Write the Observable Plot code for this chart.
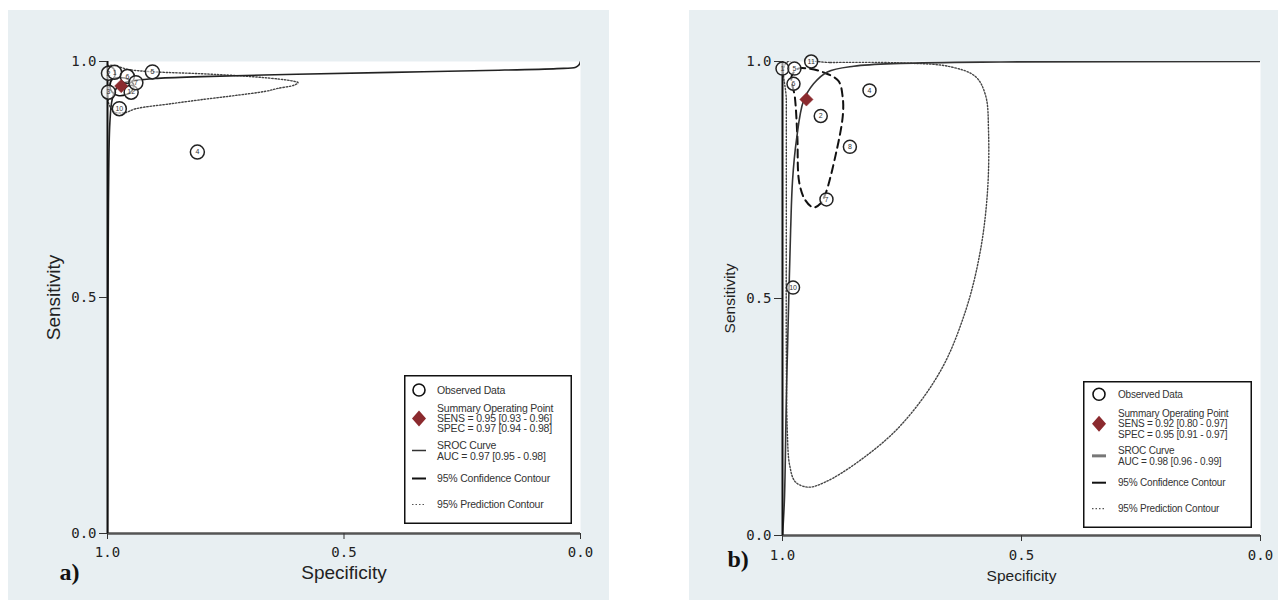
<!DOCTYPE html>
<html><head><meta charset="utf-8">
<script src="https://cdn.jsdelivr.net/npm/d3@7"></script>
<script src="https://cdn.jsdelivr.net/npm/@observablehq/plot@0.6"></script>
<style>
body{margin:0;background:#fff;width:1278px;height:608px;overflow:hidden;position:relative;font-family:"Liberation Sans",Arial,sans-serif}
.panel{position:absolute;background:#e8eff2}
.panel svg{position:absolute;left:0;top:0}
.leg{position:absolute}
</style></head><body>
<div id="pa" class="panel" style="left:8px;top:10px;width:601px;height:590px"></div>
<div id="pb" class="panel" style="left:689px;top:10px;width:589px;height:590px"></div>
<script>
// ---------- data ----------
const axisTicks = [0, 0.5, 1];
const xTitle = "Specificity";
const yTitle = "Sensitivity";

// Panel a: observed studies
const obsSpecA = [0.998, 0.985, 0.958, 0.905, 0.81, 0.998, 0.95, 0.94, 0.975];
const obsSensA = [0.975, 0.977, 0.968, 0.978, 0.808, 0.935, 0.935, 0.955, 0.9];
const obsLabA  = ["2", "1", "6", "5", "4", "3", "12", "7", "10"];
const sumSpecA = [0.971];
const sumSensA = [0.948];
const srocSpecA = [1.0, 0.9995, 0.998, 0.995, 0.99, 0.98, 0.965, 0.94, 0.9, 0.8, 0.6, 0.4, 0.2, 0.05, 0.01, 0.003, 0.0];
const srocSensA = [0.0, 0.3, 0.7, 0.87, 0.92, 0.945, 0.955, 0.96, 0.964, 0.968, 0.973, 0.977, 0.981, 0.985, 0.988, 0.993, 1.0];
const confSpecA = [0.99, 0.975, 0.955, 0.945, 0.948, 0.96, 0.978, 0.99, 0.995];
const confSensA = [0.962, 0.966, 0.962, 0.952, 0.938, 0.93, 0.928, 0.935, 0.948];
const predSpecA = [1.0, 0.95, 0.9, 0.8, 0.71, 0.64, 0.605, 0.597, 0.605, 0.64, 0.665, 0.73, 0.795, 0.87, 0.94, 0.962, 0.985, 0.997, 1.0];
const predSensA = [0.99, 0.982, 0.978, 0.974, 0.969, 0.963, 0.958, 0.955, 0.95, 0.943, 0.937, 0.928, 0.92, 0.91, 0.9, 0.892, 0.893, 0.91, 0.95];
const legendA = ["Observed Data", "Summary Operating Point", "SENS = 0.95 [0.93 - 0.96]", "SPEC = 0.97 [0.94 - 0.98]",
                 "SROC Curve", "AUC = 0.97 [0.95 - 0.98]", "95% Confidence Contour", "95% Prediction Contour"];

// Panel b: observed studies
const obsSpecB = [1.0, 0.975, 0.94, 0.977, 0.818, 0.92, 0.859, 0.908, 0.978];
const obsSensB = [0.985, 0.985, 1.0, 0.953, 0.939, 0.885, 0.82, 0.709, 0.523];
const obsLabB  = ["1", "5", "11", "6", "4", "2", "8", "7", "10"];
const sumSpecB = [0.95];
const sumSensB = [0.92];
const srocSpecB = [1.0, 0.996, 0.992, 0.987, 0.983, 0.979, 0.971, 0.956, 0.935, 0.906, 0.851, 0.753, 0.544, 0.0];
const srocSensB = [0.0, 0.075, 0.286, 0.497, 0.644, 0.749, 0.833, 0.917, 0.953, 0.978, 0.99, 0.996, 0.999, 1.0];
const confSpecB = [0.981, 0.974, 0.969, 0.965, 0.952, 0.935, 0.921, 0.91, 0.889, 0.874, 0.874, 0.883, 0.914, 0.946, 0.967];
const confSensB = [0.969, 0.924, 0.843, 0.745, 0.707, 0.692, 0.7, 0.721, 0.802, 0.884, 0.924, 0.959, 0.977, 0.985, 0.985];
const predSpecB = [0.992, 0.9, 0.753, 0.649, 0.596, 0.575, 0.569, 0.571, 0.586, 0.617, 0.669, 0.753, 0.837, 0.91, 0.946, 0.973, 0.985, 0.99, 0.992, 0.992, 0.992];
const predSensB = [0.997, 0.998, 0.997, 0.989, 0.968, 0.928, 0.854, 0.728, 0.601, 0.474, 0.348, 0.232, 0.159, 0.113, 0.102, 0.113, 0.148, 0.222, 0.391, 0.707, 0.917];
const legendB = ["Observed Data", "Summary Operating Point", "SENS = 0.92 [0.80 - 0.97]", "SPEC = 0.95 [0.91 - 0.97]",
                 "SROC Curve", "AUC = 0.98 [0.96 - 0.99]", "95% Confidence Contour", "95% Prediction Contour"];

// ---------- helpers ----------
const zip = (xs, ys, ls) => xs.map((x, i) => ({spec: x, sens: ys[i], label: ls ? ls[i] : null}));
const fmt = d3.format(".1f");

function panel(c) {
  const obs = zip(c.obsSpec, c.obsSens, c.obsLab);
  return Plot.plot({
    width: c.width, height: 590,
    marginLeft: c.ml, marginRight: c.mr, marginTop: c.mt, marginBottom: c.mb,
    style: {background: "transparent", fontFamily: "DejaVu Sans Mono", fontSize: "14px", color: "#222"},
    x: {domain: [1, 0], label: null},
    y: {domain: [0, 1], label: null},
    marks: [
      Plot.frame({fill: "white", stroke: null}),
      Plot.line(zip(c.predSpec, c.predSens), {x: "spec", y: "sens", curve: "catmull-rom-closed", stroke: "#444", strokeWidth: 1.4, strokeDasharray: "1.4,1.8", clip: true}),
      Plot.line(zip(c.confSpec, c.confSens), {x: "spec", y: "sens", curve: "catmull-rom-closed", stroke: "#111", strokeWidth: c.confW, strokeDasharray: c.confDash, clip: true}),
      Plot.line(zip(c.srocSpec, c.srocSens), {x: "spec", y: "sens", curve: "catmull-rom", stroke: c.srocColor, strokeWidth: 1.6, clip: true}),
      Plot.ruleY([0], {stroke: "#555", strokeWidth: 2.5}),
      Plot.ruleX([1], {stroke: "#111", strokeWidth: 2}),
      Plot.dot(obs, {x: "spec", y: "sens", r: c.r, stroke: "#222", strokeWidth: 1.5, fill: "white", fillOpacity: 0.55}),
      Plot.text(obs, {x: "spec", y: "sens", text: "label", fontSize: 7, fontFamily: "Liberation Sans", fill: "#333"}),
      Plot.dot(zip(c.sumSpec, c.sumSens), {x: "spec", y: "sens", symbol: "diamond2", r: 6, fill: "#8b2a2e", stroke: "#8b2a2e", strokeWidth: 0.5}),
      Plot.axisY(axisTicks, {tickSize: 8, tickPadding: 3, tickFormat: fmt, fontSize: 14, label: null, stroke: "#333"}),
      Plot.axisX(axisTicks, {tickSize: 6, tickPadding: c.xPad, tickFormat: fmt, fontSize: 14, label: null, stroke: "#333"}),
      Plot.text([c.xTitle], {frameAnchor: "bottom", dy: c.xdy, textAnchor: "middle", lineAnchor: "middle", fontSize: c.tf, fontFamily: "Liberation Sans", fill: "#222"}),
      Plot.text([c.yTitle], {frameAnchor: "left", dx: c.ydx, rotate: -90, textAnchor: "middle", lineAnchor: "middle", fontSize: c.tf, fontFamily: "Liberation Sans", fill: "#222"}),
      Plot.text([c.tag], {frameAnchor: "bottom-left", dx: c.tagdx, dy: c.tagdy, textAnchor: "start", lineAnchor: "middle", fontSize: 24, fontWeight: "bold", fontFamily: "Liberation Serif", fill: "#111"})
    ]
  });
}

function legend(c) {
  const svg = d3.select("body").append("svg").attr("class", "leg")
    .style("left", c.left + "px").style("top", c.top + "px")
    .attr("width", c.w).attr("height", c.h);
  svg.append("rect").attr("x", 0.75).attr("y", 0.75).attr("width", c.w - 1.5).attr("height", c.h - 1.5)
    .attr("fill", "white").attr("stroke", "#111").attr("stroke-width", 1.5);
  const sx = c.sx;
  svg.append("circle").attr("cx", sx).attr("cy", c.ys[0]).attr("r", 6).attr("fill", "white").attr("stroke", "#111").attr("stroke-width", 1.6);
  const dy = (c.ys[1] + c.ys[3]) / 2;
  svg.append("path").attr("d", `M${sx},${dy - 8}L${sx + 7},${dy}L${sx},${dy + 8}L${sx - 7},${dy}Z`).attr("fill", "#8b2a2e");
  const sy = (c.ys[4] + c.ys[5]) / 2;
  svg.append("line").attr("x1", sx - 7).attr("x2", sx + 7).attr("y1", sy).attr("y2", sy).attr("stroke", c.srocColor).attr("stroke-width", c.srocLegW);
  svg.append("line").attr("x1", sx - 7).attr("x2", sx + 7).attr("y1", c.ys[6]).attr("y2", c.ys[6]).attr("stroke", "#111").attr("stroke-width", 2);
  svg.append("line").attr("x1", sx - 7).attr("x2", sx + 7).attr("y1", c.ys[7]).attr("y2", c.ys[7]).attr("stroke", "#555").attr("stroke-width", 1.2).attr("stroke-dasharray", "1.5,2");
  c.labels.forEach((t, i) => {
    svg.append("text").attr("x", c.tx).attr("y", c.ys[i]).attr("dy", "0.35em")
      .attr("font-family", "Liberation Sans").attr("font-size", c.fs).attr("letter-spacing", "-0.2")
      .attr("fill", "#333").text(t);
  });
}

// ---------- panel a ----------
document.getElementById("pa").append(panel({
  width: 601, ml: 99, mr: 29, mt: 51, mb: 67,
  obsSpec: obsSpecA, obsSens: obsSensA, obsLab: obsLabA, r: 7,
  sumSpec: sumSpecA, sumSens: sumSensA,
  srocSpec: srocSpecA, srocSens: srocSensA, srocColor: "#222",
  confSpec: confSpecA, confSens: confSensA, confW: 1.6, confDash: null,
  predSpec: predSpecA, predSens: predSensA,
  xPad: 8, xTitle, yTitle, tf: 19, xdy: 39, ydx: -54,
  tag: "a)", tagdx: -48, tagdy: 39
}));
legend({left: 404, top: 375, w: 168, h: 149, sx: 15, tx: 33, fs: 10.5,
  ys: [15, 33.6, 43.6, 53.3, 70, 81, 103.5, 129.5], labels: legendA, srocColor: "#333", srocLegW: 1.5});

// ---------- panel b ----------
document.getElementById("pb").append(panel({
  width: 589, ml: 93, mr: 18, mt: 51, mb: 65,
  obsSpec: obsSpecB, obsSens: obsSensB, obsLab: obsLabB, r: 6.5,
  sumSpec: sumSpecB, sumSens: sumSensB,
  srocSpec: srocSpecB, srocSens: srocSensB, srocColor: "#333",
  confSpec: confSpecB, confSens: confSensB, confW: 2, confDash: "8,5",
  predSpec: predSpecB, predSens: predSensB,
  xPad: 9, xTitle, yTitle, tf: 15.5, xdy: 41, ydx: -52,
  tag: "b)", tagdx: -55, tagdy: 24
}));
legend({left: 1083, top: 381, w: 169, h: 147, sx: 16, tx: 35, fs: 10,
  ys: [13.3, 32.1, 42.6, 53.3, 69.6, 80.1, 101.7, 127.6], labels: legendB, srocColor: "#777", srocLegW: 3});
</script></body></html>
